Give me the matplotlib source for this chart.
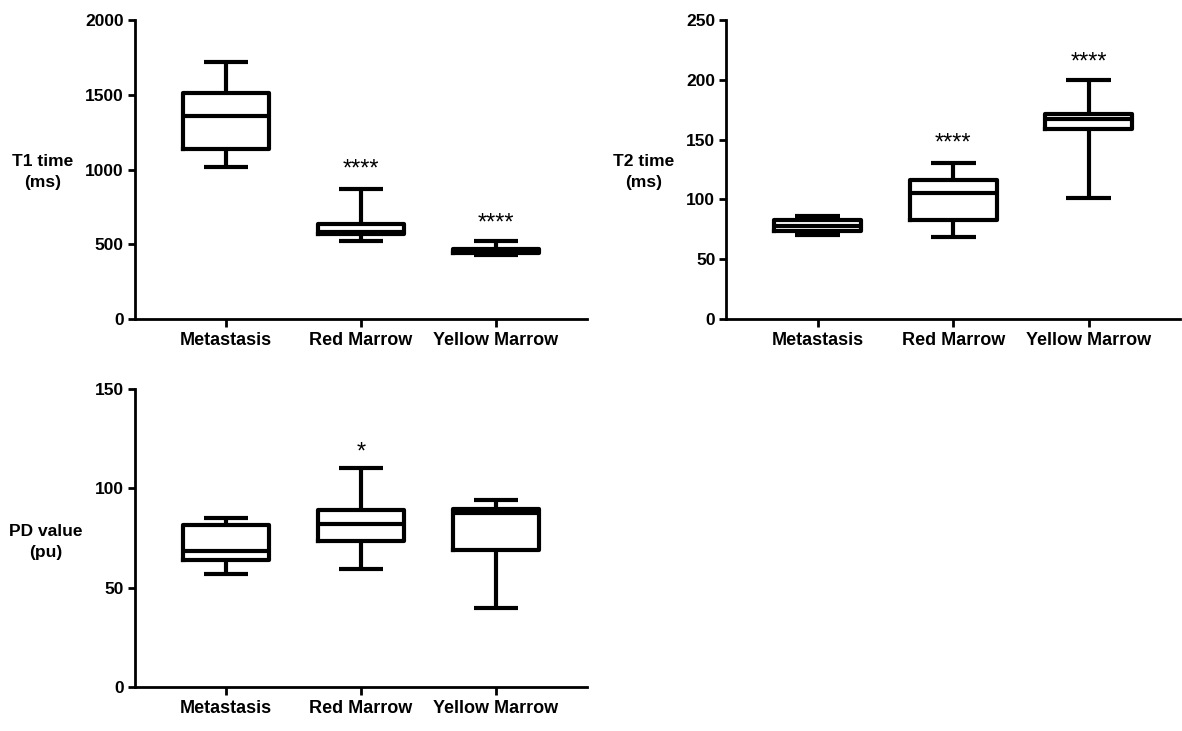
import matplotlib
matplotlib.use("Agg")
import matplotlib.pyplot as plt
from matplotlib.transforms import ScaledTranslation

plt.rcParams['font.family'] = ['Liberation Sans', 'DejaVu Sans']

categories = ["Metastasis", "Red Marrow", "Yellow Marrow"]

# T1 time (ms): whisker low, Q1, median, Q3, whisker high
t1_low = [1017, 524, 425]
t1_q1 = [1140, 568, 440]
t1_med = [1361, 580, 455]
t1_q3 = [1513, 638, 470]
t1_high = [1716, 871, 525]
t1_sig = ["", "****", "****"]
t1_sig_y = [0, 1040, 677]

# T2 time (ms)
t2_low = [70, 68.5, 101.5]
t2_q1 = [74, 83, 159]
t2_med = [77.5, 105.6, 167]
t2_q3 = [82.5, 116, 171.5]
t2_high = [86, 130.7, 200]
t2_sig = ["", "****", "****"]
t2_sig_y = [0, 151, 219]

# PD value (pu)
pd_low = [57, 59.5, 40]
pd_q1 = [63.7, 73.7, 69]
pd_med = [68.2, 82, 87.8]
pd_q3 = [81.3, 89, 89.5]
pd_high = [85, 110, 94.2]
pd_sig = ["", "*", ""]
pd_sig_y = [0, 121, 0]

t1_ticks = [0, 500, 1000, 1500, 2000]
t2_ticks = [0, 50, 100, 150, 200, 250]
pd_ticks = [0, 50, 100, 150]

fig = plt.figure(figsize=(11.82, 7.31), dpi=100)

LW = 3.0
SPW = 2.0


def panel(rect, low, q1, med, q3, high, sig, sig_y, ticks, ylabel, lab_x, lab_y):
    ax = fig.add_axes(rect)
    stats = []
    for i, c in enumerate(categories):
        stats.append(dict(label=c, whislo=low[i], q1=q1[i], med=med[i],
                          q3=q3[i], whishi=high[i], fliers=[]))
    positions = [1, 2, 3]
    lp = dict(color='black', linewidth=LW, solid_capstyle='butt')
    ax.bxp(stats, positions=positions, widths=0.64, capwidths=0.33,
           showfliers=False,
           boxprops=dict(color='black', linewidth=LW),
           medianprops=dict(color='black', linewidth=LW),
           whiskerprops=lp, capprops=lp)
    off = ax.transData + ScaledTranslation(0, -4 / 72, fig.dpi_scale_trans)
    for i in range(len(categories)):
        if sig[i]:
            ax.text(positions[i], sig_y[i], sig[i], ha='center', va='center',
                    fontsize=17, color='black', transform=off)
    ax.set_xlim(0.326, 3.674)
    ax.set_ylim(ticks[0], ticks[-1])
    ax.set_yticks(ticks)
    ax.set_xticks(positions)
    ax.set_xticklabels(categories)
    for s in ['top', 'right']:
        ax.spines[s].set_visible(False)
    for s in ['left', 'bottom']:
        ax.spines[s].set_linewidth(SPW)
    ax.tick_params(axis='y', direction='out', length=5, width=SPW,
                   labelsize=12.5, pad=3)
    ax.tick_params(axis='x', direction='out', length=5.5, width=SPW,
                   labelsize=13, pad=4)
    for lab in ax.get_xticklabels() + ax.get_yticklabels():
        lab.set_fontweight('bold')
    ax.set_ylabel(ylabel, rotation=0, fontsize=12.5, fontweight='bold',
                  ha='center', va='center', linespacing=1.5)
    ax.yaxis.set_label_coords(lab_x, lab_y)
    return ax


panel([0.1142, 0.5636, 0.3824, 0.409], t1_low, t1_q1, t1_med, t1_q3, t1_high,
      t1_sig, t1_sig_y, t1_ticks, "T1 time\n(ms)", -0.2035, 0.493)
panel([0.6146, 0.5636, 0.3837, 0.409], t2_low, t2_q1, t2_med, t2_q3, t2_high,
      t2_sig, t2_sig_y, t2_ticks, "T2 time\n(ms)", -0.183, 0.493)
panel([0.1142, 0.0602, 0.3824, 0.4077], pd_low, pd_q1, pd_med, pd_q3, pd_high,
      pd_sig, pd_sig_y, pd_ticks, "PD value\n(pu)", -0.198, 0.4877)

fig.savefig("out.png", dpi=100)
